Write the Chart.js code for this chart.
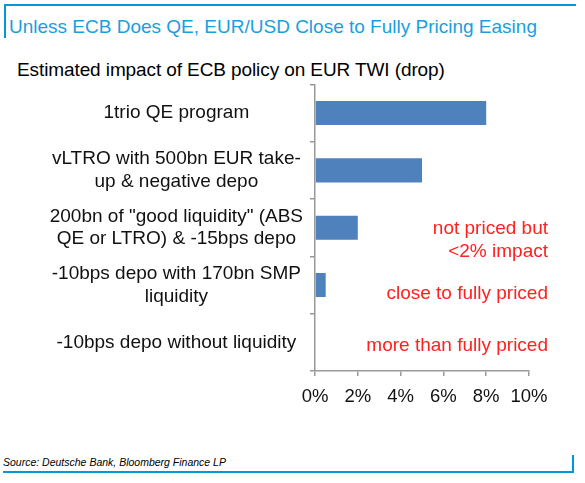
<!DOCTYPE html>
<html>
<head>
<meta charset="utf-8">
<script src="https://cdn.jsdelivr.net/npm/chart.js@4/dist/chart.umd.min.js"></script>
<style>
  body { margin:0; width:585px; height:483px; background:#fff; font-family:"Liberation Sans", Arial, sans-serif; position:relative; overflow:hidden; }
  .frame-top { position:absolute; left:4px; top:4px; width:572px; height:2px; background:#0098db; }
  .frame-left { position:absolute; left:4px; top:4px; width:2px; height:34px; background:#0098db; }
  .header { position:absolute; left:9px; top:16px; font-size:19px; color:#1a9ee0; white-space:nowrap; }
  .title { position:absolute; left:17px; top:59px; font-size:19px; color:#000; white-space:nowrap; letter-spacing:-0.1px; }
  .note { position:absolute; right:37px; font-size:19px; color:#ff2020; text-align:right; line-height:23px; white-space:nowrap; }
  .source { position:absolute; left:3px; top:456px; font-size:10.5px; font-style:italic; color:#000; }
  .frame-bottom { position:absolute; left:3px; top:471px; width:571px; height:2px; background:#0098db; }
  .frame-right { position:absolute; left:572px; top:455px; width:2px; height:18px; background:#0098db; }
  #wrap { position:absolute; left:0; top:66px; width:585px; height:350px; }
</style>
</head>
<body>
<div class="frame-top"></div>
<div class="frame-left"></div>
<div class="header">Unless ECB Does QE, EUR/USD Close to Fully Pricing Easing</div>
<div class="title">Estimated impact of ECB policy on EUR TWI (drop)</div>
<div id="wrap"><canvas id="myChart"></canvas></div>
<div class="note" style="top:216px;">not priced but<br>&lt;2% impact</div>
<div class="note" style="top:281px;">close to fully priced</div>
<div class="note" style="top:333px;">more than fully priced</div>
<div class="source">Source: Deutsche Bank, Bloomberg Finance LP</div>
<div class="frame-bottom"></div>
<div class="frame-right"></div>
<script>
const categories = [
    ['1trio QE program'],
    ['vLTRO with 500bn EUR take-', 'up & negative depo'],
    ['200bn of "good liquidity" (ABS', 'QE or LTRO) & -15bps depo'],
    ['-10bps depo with 170bn SMP', 'liquidity'],
    ['-10bps depo without liquidity']
];
const impactValues = [8, 5, 2, 0.5, 0];
const xTicks = [0, 2, 4, 6, 8, 10];

const ctx = document.getElementById('myChart').getContext('2d');
const myChart = new Chart(ctx, {
    type: 'bar',
    data: {
        labels: categories,
        datasets: [{
            label: 'Impact',
            data: impactValues,
            backgroundColor: '#4f81bd',
            borderWidth: 0,
            categoryPercentage: 1,
            barPercentage: 0.42
        }]
    },
    options: {
        indexAxis: 'y',
        responsive: true,
        maintainAspectRatio: false,
        animation: false,
        layout: { padding: { left: 15, right: 56, top: 5, bottom: 0 } },
        plugins: { legend: { display: false }, tooltip: { enabled: false } },
        scales: {
            x: {
                min: 0,
                max: 10,
                afterBuildTicks: scale => { scale.ticks = xTicks.map(v => ({ value: v })); },
                afterFit: scale => { scale.height = 45; },
                grid: { drawOnChartArea: false, drawTicks: true, tickLength: 5, color: '#999', lineWidth: 1.5 },
                border: { color: '#999', width: 1.5 },
                ticks: {
                    color: '#111',
                    autoSkip: false,
                    maxRotation: 0,
                    minRotation: 0,
                    font: { family: '"Liberation Sans", Arial, sans-serif', size: 18.5 },
                    padding: 10,
                    callback: v => v + '%'
                }
            },
            y: {
                afterFit: scale => { scale.width = 300; },
                grid: { drawOnChartArea: false, drawTicks: true, tickLength: 5, color: '#999', lineWidth: 1.5 },
                border: { color: '#999', width: 1.5 },
                ticks: {
                    color: '#111',
                    crossAlign: 'center',
                    padding: 7,
                    font: { family: '"Liberation Sans", Arial, sans-serif', size: 19, lineHeight: 1.2 }
                }
            }
        }
    }
});
</script>
</body>
</html>
